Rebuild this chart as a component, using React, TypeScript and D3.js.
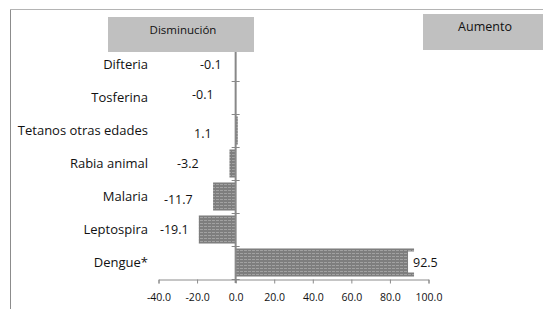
import { useEffect, useRef } from 'react'
import * as d3 from 'd3'

const categories = ['Difteria', 'Tosferina', 'Tetanos otras edades', 'Rabia animal', 'Malaria', 'Leptospira', 'Dengue*']
const values = [-0.1, -0.1, 1.1, -3.2, -11.7, -19.1, 92.5]
const xTicks = [-40, -20, 0, 20, 40, 60, 80, 100]
const headers = ['Disminución', 'Aumento']

// hand-placed value labels (px from zero line / band centre), as in the source
const labelDx = [-14, -22, -24, -37, -43, -47, 0]
const labelDy = [0, -3, 3, 0, 3, 0, 0]

const fmt = (v: number) => v.toFixed(1)

export default function App() {
  const ref = useRef<SVGSVGElement>(null)

  useEffect(() => {
    if (!ref.current) return
    const el = ref.current
    const font = '"Open Sans", "Liberation Sans", Arial, sans-serif'

    d3.select(el).selectAll('*').remove()
    const svg = d3.select(el)

    const defs = svg.append('defs')
    const pat = defs.append('pattern')
      .attr('id', 'hatch')
      .attr('width', 4).attr('height', 3)
      .attr('patternUnits', 'userSpaceOnUse')
    pat.append('rect').attr('width', 4).attr('height', 3).attr('fill', '#7e7e7e')
    pat.append('rect').attr('y', 1).attr('width', 3).attr('height', 1).attr('fill', '#a2a2a2')

    const x = d3.scaleLinear().domain([-40, 100]).range([158.5, 428.5])
    const y = d3.scaleBand().domain(categories).range([48, 279]).paddingInner(0.15).paddingOuter(0.075)
    const step = y.step()

    // outer frame
    svg.append('line').attr('x1', 10.5).attr('x2', 543).attr('y1', 9.5).attr('y2', 9.5).attr('stroke', '#b4b4b4')
    svg.append('line').attr('x1', 10.5).attr('x2', 10.5).attr('y1', 9.5).attr('y2', 309).attr('stroke', '#8c8c8c')

    // x axis
    svg.append('g')
      .attr('transform', 'translate(0,279.5)')
      .call(d3.axisBottom(x).tickValues(xTicks).tickSize(4).tickSizeOuter(4).tickFormat(d => fmt(d as number)))
      .call(g => {
        g.select('.domain').attr('stroke', '#8c8c8c')
        g.selectAll('line').attr('stroke', '#8c8c8c')
        g.selectAll('text').attr('fill', '#111').attr('font-size', '10.5px').attr('font-family', font).attr('dy', '1.35em')
      })

    // bars
    svg.selectAll('rect.bar')
      .data(values)
      .join('rect')
      .attr('class', 'bar')
      .attr('x', d => x(Math.min(0, d)))
      .attr('width', d => Math.abs(x(d) - x(0)))
      .attr('y', (_, i) => y(categories[i])!)
      .attr('height', y.bandwidth())
      .attr('fill', 'url(#hatch)')

    // zero line with cross ticks
    svg.append('line')
      .attr('x1', x(0)).attr('x2', x(0)).attr('y1', 48).attr('y2', 283)
      .attr('stroke', '#888').attr('stroke-width', 2)
    svg.selectAll('line.ytick')
      .data(categories)
      .join('line')
      .attr('class', 'ytick')
      .attr('x1', x(0) - 4).attr('x2', x(0) + 4)
      .attr('y1', c => Math.round(y(c)! - y.paddingOuter() * step + step) + 0.5)
      .attr('y2', c => Math.round(y(c)! - y.paddingOuter() * step + step) + 0.5)
      .attr('stroke', '#888')

    // category labels
    svg.selectAll('text.cat')
      .data(categories)
      .join('text')
      .attr('class', 'cat')
      .attr('x', 148)
      .attr('y', c => y(c)! + y.bandwidth() / 2)
      .attr('dy', '0.35em')
      .attr('text-anchor', 'end')
      .attr('font-family', font).attr('font-size', '13px').attr('fill', '#111')
      .text(c => c)

    // value labels
    values.forEach((v, i) => {
      const cy = y(categories[i])! + y.bandwidth() / 2 + labelDy[i]
      if (v > 50) {
        const tx = x(v) - 1
        svg.append('rect').attr('x', tx - 5).attr('y', cy - 11).attr('width', 38).attr('height', 21).attr('fill', '#fff')
        svg.append('text').attr('x', tx).attr('y', cy).attr('dy', '0.35em')
          .attr('font-family', font).attr('font-size', '12.5px').attr('fill', '#111')
          .text(fmt(v))
      } else {
        svg.append('text').attr('x', x(0) + labelDx[i]).attr('y', cy).attr('dy', '0.35em')
          .attr('text-anchor', 'end')
          .attr('font-family', font).attr('font-size', '12.5px').attr('fill', '#111')
          .text(fmt(v))
      }
    })

    // header boxes
    const boxes = [
      { x: 108, y: 17, w: 146, h: 35, ty: 30, fs: 11.5 },
      { x: 423, y: 14, w: 120, h: 36, ty: 27, fs: 12.5 },
    ]
    boxes.forEach((b, i) => {
      svg.append('rect').attr('x', b.x).attr('y', b.y).attr('width', b.w).attr('height', b.h).attr('fill', '#c0c0c0')
      svg.append('text').attr('x', b.x + b.w / 2 + 2).attr('y', b.ty).attr('dy', '0.35em')
        .attr('text-anchor', 'middle')
        .attr('font-family', font).attr('font-size', `${b.fs}px`).attr('fill', '#111')
        .text(headers[i])
    })
  }, [])

  return <svg ref={ref} width={543} height={309} style={{ position: 'absolute', left: 0, top: 0, display: 'block', background: '#fff' }} />
}
